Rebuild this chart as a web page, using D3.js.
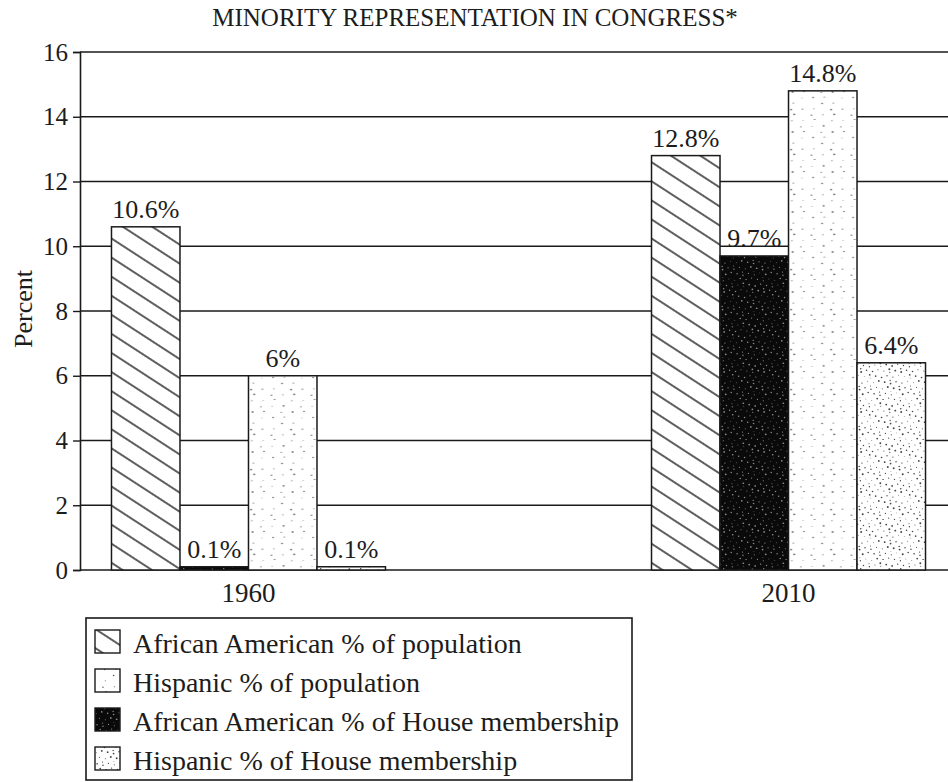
<!DOCTYPE html>
<html>
<head>
<meta charset="utf-8">
<script src="https://cdn.jsdelivr.net/npm/d3@7"></script>
<style>
    body { margin: 0; background: #fff; }
    svg { display: block; }
    text { font-family: "Liberation Serif", "Times New Roman", serif; fill: #1c1c1c; }
</style>
</head>
<body>
<svg id="chart" width="948" height="782"></svg>
<script>
// chart data
const years = ["1960", "2010"];
const afAmPop = [10.6, 12.8];
const afAmHouse = [0.1, 9.7];
const hispPop = [6, 14.8];
const hispHouse = [0.1, 6.4];
const yTicks = [0, 2, 4, 6, 8, 10, 12, 14, 16];

// series in bar order (left to right inside a year)
const seriesKeys = ["afAmPop", "afAmHouse", "hispPop", "hispHouse"];
const seriesValues = { afAmPop: afAmPop, afAmHouse: afAmHouse, hispPop: hispPop, hispHouse: hispHouse };
// legend order
const legendKeys = ["afAmPop", "hispPop", "afAmHouse", "hispHouse"];
const legendLabels = {
    afAmPop: "African American % of population",
    hispPop: "Hispanic % of population",
    afAmHouse: "African American % of House membership",
    hispHouse: "Hispanic % of House membership"
};

const ink = "#1a1a1a";
let svg = d3.select("#chart");

// plot frame (right side runs off the page like the scan)
const plotTop = 52, plotBottom = 570, plotLeft = 80, plotRight = 948;

let y = d3.scaleLinear().domain([0, 16]).range([plotBottom, plotTop]);
let x0 = d3.scaleBand().domain(years).range([plotLeft, 957]).paddingInner(0.4926).paddingOuter(0.0583);
let x1 = d3.scaleBand().domain(seriesKeys).range([0, x0.bandwidth()]);

// ******* fill patterns *******
let defs = svg.append("defs");

// diagonal hatch
let hatch = defs.append("pattern")
    .attr("id", "p-afAmPop")
    .attr("patternUnits", "userSpaceOnUse")
    .attr("width", 10).attr("height", 16)
    .attr("patternTransform", "rotate(33)");
hatch.append("rect").attr("width", 10).attr("height", 16).attr("fill", "#fff");
hatch.append("line").attr("x1", 0).attr("x2", 10).attr("y1", 8).attr("y2", 8)
    .attr("stroke", ink).attr("stroke-width", 1.4);

// speckle texture, dots placed along a fixed low-discrepancy sequence
function speckle(id, bg, dot, count, size, rMin, rMax) {
    let p = defs.append("pattern")
        .attr("id", id)
        .attr("patternUnits", "userSpaceOnUse")
        .attr("width", size).attr("height", size);
    p.append("rect").attr("width", size).attr("height", size).attr("fill", bg);
    let dots = d3.range(count).map(i => ({
        x: ((i * 0.7548776662 + 0.31) % 1) * size,
        y: ((i * 0.5698402910 + 0.17) % 1) * size,
        r: rMin + ((i * 0.381966 + 0.5) % 1) * (rMax - rMin)
    }));
    p.selectAll("circle").data(dots).enter().append("circle")
        .attr("cx", d => d.x).attr("cy", d => d.y).attr("r", d => d.r)
        .attr("fill", dot);
}
speckle("p-afAmHouse", "#0a0a0a", "#8c8c8c", 60, 40, 0.4, 0.9);
speckle("p-hispPop", "#fff", "#555", 20, 40, 0.4, 0.9);
speckle("p-hispHouse", "#fff", "#444", 60, 40, 0.4, 1.0);

// ******* title *******
svg.append("text")
    .attr("x", 475).attr("y", 26)
    .attr("text-anchor", "middle")
    .style("font-size", "25px")
    .text("MINORITY REPRESENTATION IN CONGRESS*");

// ******* gridlines + axis *******
svg.append("g").selectAll("line")
    .data(yTicks).enter().append("line")
    .attr("x1", plotLeft).attr("x2", plotRight)
    .attr("y1", d => y(d)).attr("y2", d => y(d))
    .attr("stroke", ink).attr("stroke-width", 1.4);

let yAxis = svg.append("g")
    .attr("transform", "translate(" + plotLeft + ",0)")
    .call(d3.axisLeft(y).tickValues(yTicks).tickSize(7).tickPadding(5).tickFormat(d3.format("d")));
yAxis.select(".domain").attr("stroke", ink).attr("stroke-width", 1.6);
yAxis.selectAll(".tick line").attr("stroke", ink).attr("stroke-width", 1.4);
yAxis.selectAll(".tick text")
    .style("font-family", "'Liberation Serif', serif")
    .style("font-size", "25px")
    .attr("fill", ink);

svg.append("text")
    .attr("transform", "translate(32,309) rotate(-90)")
    .attr("text-anchor", "middle")
    .style("font-size", "26px")
    .text("Percent");

// year labels
svg.append("g").selectAll("text")
    .data(years).enter().append("text")
    .attr("x", d => x0(d) + x0.bandwidth() / 2)
    .attr("y", 602)
    .attr("text-anchor", "middle")
    .style("font-size", "27px")
    .text(d => d);

// ******* bars *******
let barData = [];
years.forEach(function(yr, i) {
    seriesKeys.forEach(function(k) {
        barData.push({ year: yr, key: k, value: seriesValues[k][i] });
    });
});

let bars = svg.append("g").selectAll("g.bar")
    .data(barData).enter().append("g")
    .attr("class", "bar")
    .attr("transform", d => "translate(" + (x0(d.year) + x1(d.key)) + ",0)");

bars.append("rect")
    .attr("x", 0)
    .attr("width", x1.bandwidth())
    .attr("y", d => y(d.value))
    .attr("height", d => y(0) - y(d.value))
    .attr("fill", d => "url(#p-" + d.key + ")")
    .attr("stroke", ink)
    .attr("stroke-width", 1.5);

bars.append("text")
    .attr("x", x1.bandwidth() / 2)
    .attr("y", d => y(d.value) - 9)
    .attr("text-anchor", "middle")
    .style("font-size", "26px")
    .text(d => d.value + "%");

// ******* legend *******
let legend = svg.append("g");
legend.append("rect")
    .attr("x", 86).attr("y", 618)
    .attr("width", 546).attr("height", 162)
    .attr("fill", "none")
    .attr("stroke", ink).attr("stroke-width", 1.6);

let rows = legend.selectAll("g.row")
    .data(legendKeys).enter().append("g")
    .attr("class", "row")
    .attr("transform", (d, i) => "translate(0," + (653 + i * 39) + ")");

rows.append("rect")
    .attr("x", 95).attr("y", -23)
    .attr("width", 25).attr("height", 23)
    .attr("fill", d => "url(#p-" + d + ")")
    .attr("stroke", ink).attr("stroke-width", 1.4);

rows.append("text")
    .attr("x", 133).attr("y", 0)
    .style("font-size", "28px")
    .text(d => legendLabels[d]);
</script>
</body>
</html>
